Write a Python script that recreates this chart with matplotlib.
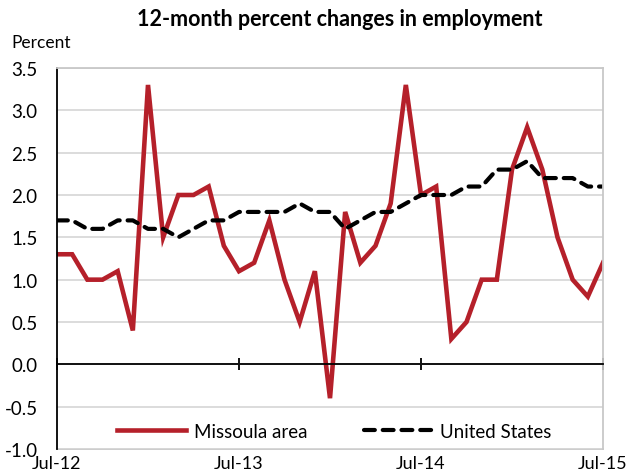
import matplotlib
matplotlib.use('Agg')
import matplotlib.pyplot as plt
import numpy as np

plt.rcParams['font.family'] = ['Lato', 'DejaVu Sans']

# monthly, Jul-12 .. Jul-15
months = list(range(37))
missoula = [1.3, 1.3, 1.0, 1.0, 1.1, 0.4, 3.3, 1.5, 2.0, 2.0, 2.1, 1.4,
            1.1, 1.2, 1.7, 1.0, 0.5, 1.1, -0.4, 1.8, 1.2, 1.4, 1.9, 3.3,
            2.0, 2.1, 0.3, 0.5, 1.0, 1.0, 2.3, 2.8, 2.3, 1.5, 1.0, 0.8, 1.2]
us = [1.7, 1.7, 1.6, 1.6, 1.7, 1.7, 1.6, 1.6, 1.5, 1.6, 1.7, 1.7,
      1.8, 1.8, 1.8, 1.8, 1.9, 1.8, 1.8, 1.6, 1.7, 1.8, 1.8, 1.9,
      2.0, 2.0, 2.0, 2.1, 2.1, 2.3, 2.3, 2.4, 2.2, 2.2, 2.2, 2.1, 2.1]
tick_pos = [0, 12, 24, 36]
tick_labels = ['Jul-12', 'Jul-13', 'Jul-14', 'Jul-15']
yticks = [-1.0, -0.5, 0.0, 0.5, 1.0, 1.5, 2.0, 2.5, 3.0, 3.5]

fig = plt.figure(figsize=(6.28, 4.77), dpi=100)
ax = fig.add_axes([57/628, 1 - 450/477, (603-57)/628, (450-69)/477])

ax.plot(months, missoula, color='#b5202a', lw=3.3, solid_joinstyle='miter',
        label='Missoula area')
ax.plot(months, us, color='black', lw=3.0, dashes=(2.6, 1.9),
        dash_capstyle='round', label='United States')

ax.set_xlim(0, 36)
ax.set_ylim(-1.0, 3.5)
ax.set_yticks(yticks)
ax.set_yticklabels(['%.1f' % v for v in yticks], fontsize=13.5)
ax.grid(axis='y', color='#d9d9d9', lw=1.3)
ax.set_axisbelow(True)

for s in ['top', 'right']:
    ax.spines[s].set_color('#c8c8c8')
    ax.spines[s].set_linewidth(1.3)
ax.spines['left'].set_color('black')
ax.spines['left'].set_linewidth(1.3)
ax.spines['bottom'].set_position(('data', 0))
ax.spines['bottom'].set_color('black')
ax.spines['bottom'].set_linewidth(1.3)
ax.axhline(-1.0, color='#c8c8c8', lw=1.3, clip_on=False, zorder=0)

ax.set_xticks(tick_pos)
ax.set_xticklabels(tick_labels, fontsize=13)
ax.tick_params(axis='x', direction='inout', length=9, width=1.3, pad=61)
ax.tick_params(axis='y', length=0, pad=14)

ax.legend(loc='center', ncol=2, frameon=False, fontsize=13.5,
          handlelength=3.7, handletextpad=0.4, columnspacing=3.0,
          bbox_to_anchor=(0.508, 0.047))

fig.text(340/628, 1 - 19/477, '12-month percent changes in employment',
         ha='center', va='center', fontsize=15.5, fontweight='bold')
fig.text(11/628, 1 - 43/477, 'Percent', ha='left', va='center', fontsize=12.5)

fig.savefig('out.png', dpi=100)
